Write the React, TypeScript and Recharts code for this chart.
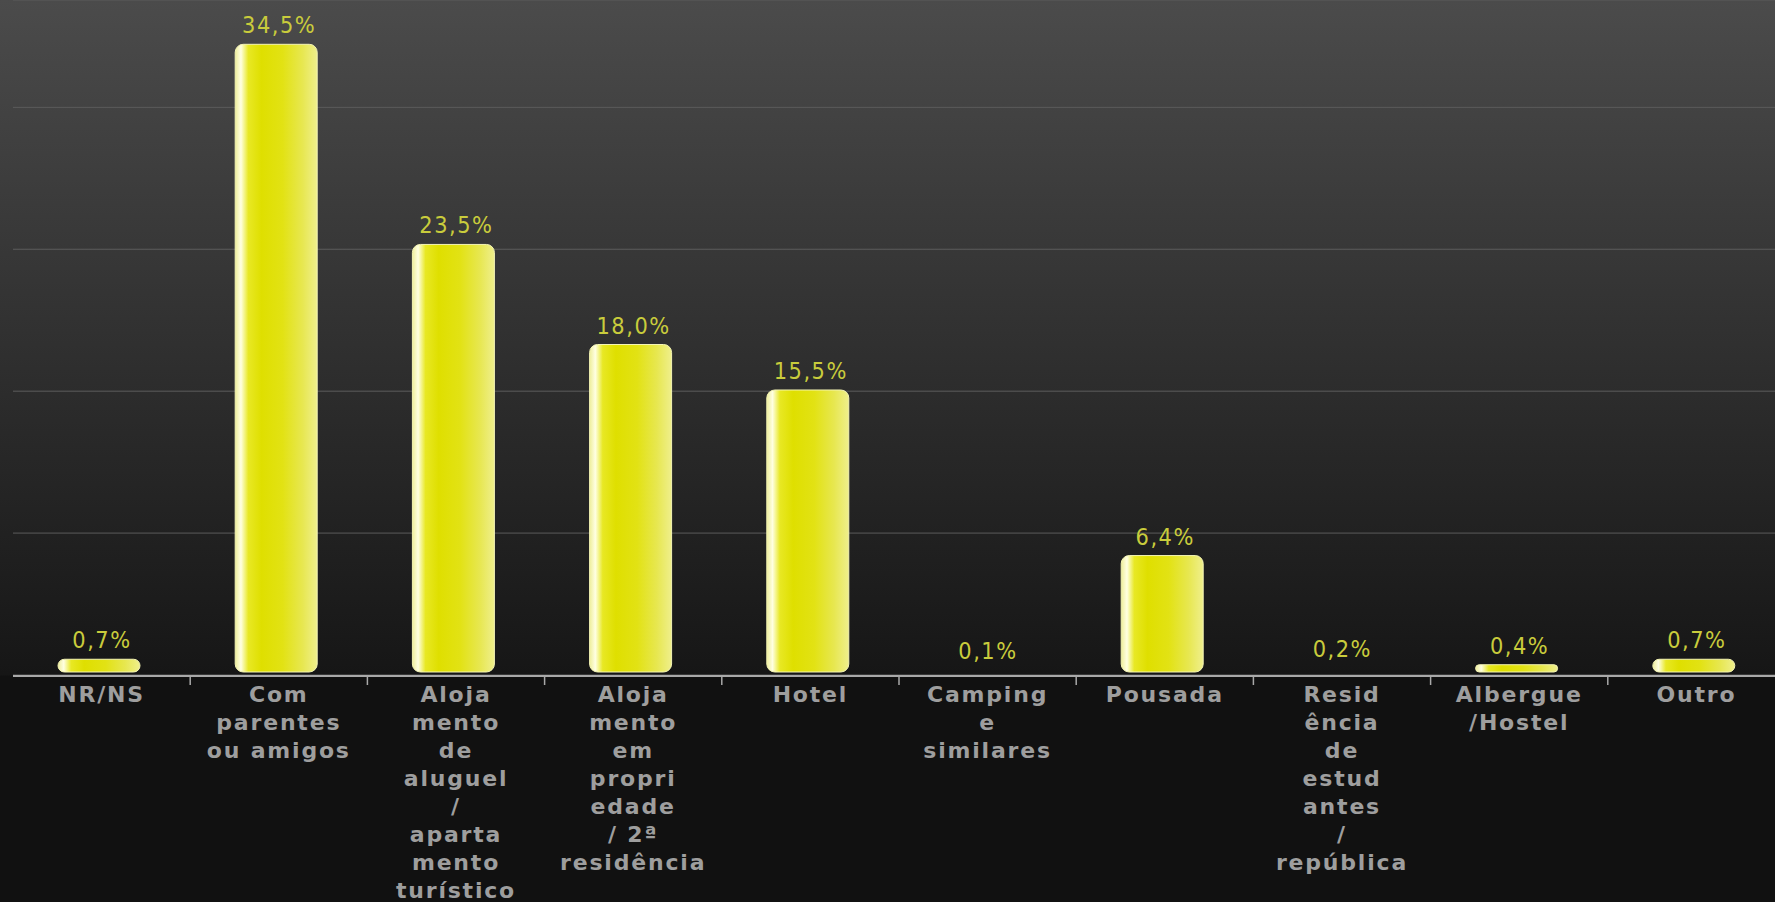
import { Bar, BarChart, CartesianGrid, LabelList, XAxis, YAxis } from "recharts";

const categories = [
  "NR/NS",
  "Com\nparentes\nou amigos",
  "Aloja\nmento\nde\naluguel\n/\naparta\nmento\nturístico",
  "Aloja\nmento\nem\npropri\nedade\n/ 2ª\nresidência",
  "Hotel",
  "Camping\ne\nsimilares",
  "Pousada",
  "Resid\nência\nde\nestud\nantes\n/\nrepública",
  "Albergue\n/Hostel",
  "Outro",
];
const shares = [0.7, 34.5, 23.5, 18.0, 15.5, 0.1, 6.4, 0.2, 0.4, 0.7];
const gridTicks = [0, 7.8, 15.6, 23.4, 31.2];
const separatorTicks = [1, 2, 3, 4, 5, 6, 7, 8, 9];

// slot = centre of each category on a 0..10 scale, used by the separator axis
const data = categories.map((name, i) => ({ name, share: shares[i], slot: i + 0.5 }));

const FONT = "'DejaVu Sans', Verdana, sans-serif";

const fmt = (v: number) => v.toFixed(1).replace(".", ",") + "%";

// bars sit a little up and left of their slot in the original
const GlossyBar = (props: any) => {
  const { x, y, width, height } = props;
  if (!height || height < 5) return <g />;
  const r = Math.min(8, height / 2);
  return (
    <rect
      x={x - 3}
      y={y - 3}
      width={width}
      height={height}
      rx={r}
      ry={r}
      fill="url(#barFill)"
      stroke="#f4f4b4"
      strokeWidth={1}
    />
  );
};

const ValueLabel = (props: any) => {
  const vb = props.viewBox ?? props;
  const cx = vb.x + vb.width / 2;
  const by = vb.y - 14;
  return (
    <text
      transform={`translate(${cx}, ${by}) scale(1, 1.12)`}
      textAnchor="middle"
      fill="#c9cc3c"
      fontFamily={FONT}
      fontSize={21}
      letterSpacing={1.5}
    >
      {fmt(Number(props.value))}
    </text>
  );
};

const CategoryTick = ({ x, y, payload }: any) => {
  const lines = String(payload.value).split("\n");
  return (
    <text
      x={x}
      y={y}
      textAnchor="middle"
      fill="#9e9e9e"
      fontFamily={FONT}
      fontSize={22}
      fontWeight="bold"
      letterSpacing={1.8}
    >
      {lines.map((line, i) => (
        <tspan key={i} x={x} dy={i === 0 ? 27 : 28}>
          {line}
        </tspan>
      ))}
    </text>
  );
};

export default function App() {
  return (
    <div
      style={{
        position: "absolute",
        top: 0,
        left: 0,
        width: 1775,
        height: 902,
        overflow: "hidden",
        background:
          "linear-gradient(to bottom, #4b4b4b 0px, #161616 675px, #111111 676px, #111111 100%)",
      }}
    >
      <BarChart
        width={1785}
        height={902}
        data={data}
        margin={{ top: 0, right: 0, left: 13, bottom: 225 }}
      >
        <defs>
          <linearGradient id="barFill" x1="0" y1="0" x2="1" y2="0">
            <stop offset="0%" stopColor="#eeee9a" />
            <stop offset="7%" stopColor="#ffffe2" />
            <stop offset="16%" stopColor="#e8e824" />
            <stop offset="32%" stopColor="#dfdf00" />
            <stop offset="58%" stopColor="#e2e214" />
            <stop offset="82%" stopColor="#e7e750" />
            <stop offset="100%" stopColor="#efef8c" />
          </linearGradient>
        </defs>
        <CartesianGrid vertical={false} stroke="#5c5c5c" strokeWidth={1} />
        <YAxis
          hide
          type="number"
          domain={[0, 37.1]}
          ticks={gridTicks}
          allowDataOverflow
        />
        <XAxis
          xAxisId="sep"
          type="number"
          dataKey="slot"
          scale="linear"
          domain={[0, 10]}
          ticks={separatorTicks}
          allowDataOverflow
          height={1}
          stroke="#a9a9a9"
          axisLine={{ stroke: "#a9a9a9", strokeWidth: 2 }}
          tickLine={{ stroke: "#a9a9a9", strokeWidth: 1.5 }}
          tickSize={9}
          tick={() => <g />}
        />
        <XAxis
          xAxisId="cat"
          dataKey="name"
          interval={0}
          height={1}
          axisLine={false}
          tickLine={false}
          tickSize={0}
          tickMargin={0}
          tick={<CategoryTick />}
        />
        <Bar
          dataKey="share"
          xAxisId="cat"
          barSize={82}
          shape={<GlossyBar />}
          isAnimationActive={false}
        >
          <LabelList dataKey="share" content={<ValueLabel />} />
        </Bar>
      </BarChart>
    </div>
  );
}
